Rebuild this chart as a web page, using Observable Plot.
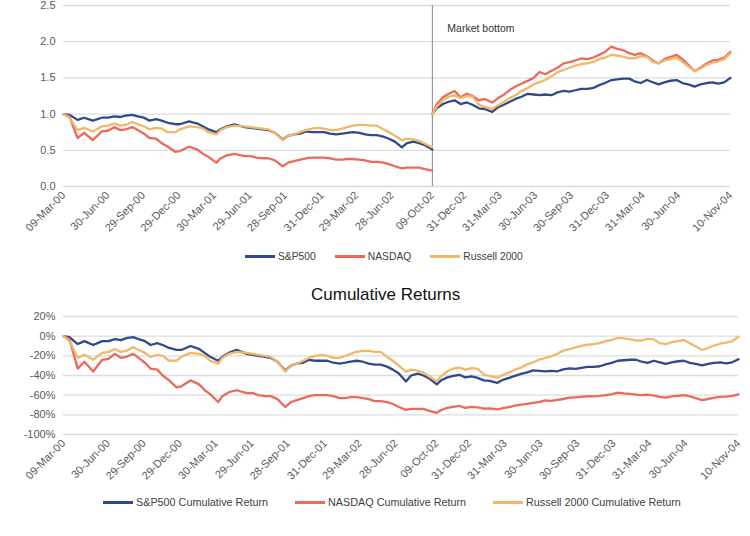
<!DOCTYPE html>
<html><head><meta charset="utf-8">
<script src="https://cdn.jsdelivr.net/npm/d3@7"></script>
<script src="https://cdn.jsdelivr.net/npm/@observablehq/plot@0.6"></script>
<style>
body{margin:0;background:#fff;font-family:"Liberation Sans",Arial,sans-serif;}
#wrap{position:relative;width:750px;height:536px;}
#wrap > *{position:absolute;left:0;}
.legend{width:750px;box-sizing:border-box;display:flex;justify-content:flex-start;align-items:center;color:#404040;height:20px;}
.legend .item{display:flex;align-items:center;}
.legend .sw{display:inline-block;width:30px;height:3px;margin-right:3px;}
.title{width:750px;box-sizing:border-box;padding-left:311px;font-size:17px;color:#111;line-height:22px;}
</style></head><body><div id="wrap"></div>
<script>
const dates = [
"2000-03-09","2000-03-24","2000-04-14","2000-05-01","2000-05-23","2000-06-15","2000-07-01","2000-07-17","2000-08-01","2000-08-15",
"2000-09-01","2000-09-15","2000-10-01","2000-10-15","2000-11-01","2000-11-15","2000-12-01","2000-12-20","2001-01-01","2001-01-24",
"2001-02-15","2001-03-01","2001-03-15","2001-04-04","2001-04-15","2001-05-01","2001-05-21","2001-06-15","2001-07-01","2001-07-15",
"2001-08-01","2001-08-15","2001-09-01","2001-09-21","2001-10-05","2001-10-20","2001-11-05","2001-11-20","2001-12-05","2001-12-20",
"2002-01-05","2002-01-20","2002-02-05","2002-02-20","2002-03-05","2002-03-20","2002-04-05","2002-04-20","2002-05-05","2002-05-20",
"2002-06-05","2002-06-20","2002-07-05","2002-07-23","2002-08-05","2002-08-22","2002-09-05","2002-09-20","2002-10-09",
"2002-10-20","2002-11-05","2002-11-20","2002-12-05","2002-12-20","2003-01-05","2003-01-20","2003-02-05","2003-02-20","2003-03-11",
"2003-03-25","2003-04-10","2003-04-25","2003-05-10","2003-05-25","2003-06-10","2003-06-25","2003-07-10","2003-07-25","2003-08-10",
"2003-08-25","2003-09-10","2003-09-25","2003-10-10","2003-10-25","2003-11-10","2003-11-25","2003-12-10","2003-12-25","2004-01-10",
"2004-01-25","2004-02-10","2004-02-25","2004-03-10","2004-03-25","2004-04-10","2004-04-25","2004-05-10","2004-05-25","2004-06-10",
"2004-06-25","2004-07-10","2004-07-25","2004-08-10","2004-08-25","2004-09-10","2004-09-25","2004-10-10","2004-10-25","2004-11-10"
];
// cumulative return since 09-Mar-00, %
const sp500 = [
0,-1,-8,-5,-9,-5,-5,-3,-4,-2,
-1,-3,-5,-9,-7,-9,-12,-14,-14,-10,
-13,-17,-21,-25,-21,-17,-14,-18,-19,-20,
-21,-22,-26,-35,-30,-28,-27,-24,-25,-25,
-25,-27,-28,-27,-26,-25,-26,-28,-29,-29,
-31,-34,-38,-46,-40,-38,-40,-43,-49,
-44.9,-41.9,-40.3,-39.3,-41.9,-40.8,-42.4,-44.9,-45.4,-47.5,
-44.4,-42.4,-40.3,-38.3,-36.8,-34.7,-35.2,-35.7,-35.2,-35.7,
-33.7,-32.7,-33.2,-32.2,-31.2,-31.2,-30.6,-28.6,-27.1,-25.0,
-24.5,-24.0,-24.0,-26.0,-27.1,-25.0,-26.6,-28.1,-26.6,-25.5,
-25.0,-27.1,-28.1,-29.6,-28.1,-27.1,-26.6,-27.6,-26.6,-23.5
];
const nasdaq = [
0,-3,-33,-26,-36,-24,-23,-18,-22,-21,
-18,-22,-27,-33,-34,-40,-45,-52,-51,-45,
-49,-55,-59,-67,-61,-57,-55,-58,-58,-60,
-61,-61,-64,-72,-67,-65,-63,-61,-60,-60,
-60,-61,-63,-63,-62,-62,-63,-64,-66,-66,
-67,-69,-72,-75,-74,-74,-74,-76,-78,
-75.1,-72.9,-71.8,-71.0,-72.9,-71.8,-72.5,-73.8,-73.4,-74.5,
-73.2,-72.1,-70.7,-69.6,-68.8,-67.9,-67.0,-65.2,-65.9,-64.8,
-63.9,-62.6,-62.2,-61.7,-61.1,-61.3,-60.8,-60.0,-59.1,-57.5,
-58.2,-58.6,-59.5,-60.0,-59.5,-60.4,-61.7,-62.6,-61.3,-60.6,
-60.0,-61.3,-63.0,-65.0,-63.9,-62.6,-61.7,-61.5,-60.8,-59.1
];
const russell = [
0,-5,-22,-19,-24,-17,-16,-13,-16,-15,
-11,-14,-17,-21,-19,-20,-25,-25,-21,-17,
-18,-20,-25,-28,-22,-18,-16,-17,-18,-19,
-20,-21,-26,-36,-30,-28,-25,-22,-20,-19,
-20,-22,-22,-20,-18,-16,-15,-15,-16,-16,
-21,-25,-30,-36,-34,-35,-37,-41,-46,
-40.6,-35.7,-33.0,-32.0,-34.1,-32.5,-33.0,-39.0,-40.6,-42.2,
-39.5,-36.8,-34.1,-32.0,-28.7,-26.6,-23.9,-22.2,-20.6,-17.9,
-14.7,-13.1,-11.4,-9.8,-8.7,-8.2,-7.1,-5.0,-3.9,-1.7,
-2.3,-3.3,-4.4,-4.4,-2.8,-3.3,-7.1,-8.2,-6.0,-5.0,
-3.9,-7.1,-10.4,-14.1,-12.0,-9.3,-7.7,-6.6,-5.0,-0.6
];
const seriesNames = ["S&P500","NASDAQ","Russell 2000"];
const seriesColors = ["#2f4a8c","#ec6a5c","#f1b868"];
const bottomDate = "2002-10-09";
const tickLabels = ["2000-03-09","2000-06-30","2000-09-29","2000-12-29","2001-03-30","2001-06-29","2001-09-28","2001-12-31",
"2002-03-29","2002-06-28","2002-10-09","2002-12-31","2003-03-31","2003-06-30","2003-09-30","2003-12-31","2004-03-31","2004-06-30","2004-11-10"];
const topTicks = [0,0.5,1,1.5,2,2.5];
const bottomTicks = [-100,-80,-60,-40,-20,0,20];

const P = d => new Date(d + "T00:00:00Z");
const seriesValues = [sp500, nasdaq, russell];
const bIdx = dates.indexOf(bottomDate);
const topRows = [], botRows = [];
seriesNames.forEach((name, s) => {
  const vals = seriesValues[s];
  const base = 1 + vals[bIdx] / 100;
  dates.forEach((d, i) => {
    const lvl = 1 + vals[i] / 100;
    if (i <= bIdx) topRows.push({date: P(d), v: lvl, key: name + "-a", series: name});
  });
  dates.forEach((d, i) => {
    const lvl = 1 + vals[i] / 100;
    if (i >= bIdx) topRows.push({date: P(d), v: lvl / base, key: name + "-b", series: name});
  });
  dates.forEach((d, i) => botRows.push({date: P(d), v: vals[i], key: name, series: name}));
});
const xDomain = [P(dates[0]), P(dates[dates.length - 1])];
const ticks = tickLabels.map(P);
const fmt = d3.utcFormat("%d-%b-%y");
const color = {domain: seriesNames, range: seriesColors};
const style = {fontFamily: '"Liberation Sans", Arial, sans-serif', fontSize: "11px", color: "#5a5a5a", background: "#fff"};

const topChart = Plot.plot({
  width: 750, height: 240,
  marginTop: 5, marginBottom: 54, marginLeft: 63, marginRight: 20,
  style,
  x: {type: "utc", domain: xDomain},
  y: {domain: [0, 2.5]},
  color,
  marks: [
    Plot.gridY(topTicks, {stroke: "#dcdcdc", strokeOpacity: 1, strokeWidth: 1.3}),
    Plot.axisY(topTicks, {tickSize: 0, tickPadding: 8, tickFormat: d3.format(".1f"), label: null}),
    Plot.axisX(ticks, {tickSize: 0, tickPadding: 7, tickRotate: -45, tickFormat: fmt, label: null}),
    Plot.ruleX([P(bottomDate)], {stroke: "#8a8a8a", strokeWidth: 1, y1: 0, y2: 2.5}),
    Plot.text(["Market bottom"], {x: P(bottomDate), y: 2.18, text: d => d, dx: 15, textAnchor: "start", fontSize: 10.5, fill: "#333"}),
    Plot.line(topRows, {x: "date", y: "v", z: "key", stroke: "series", strokeWidth: 2.3})
  ]
});

const bottomChart = Plot.plot({
  width: 750, height: 174,
  marginTop: 6, marginBottom: 50, marginLeft: 63, marginRight: 12,
  style,
  x: {type: "utc", domain: xDomain},
  y: {domain: [-100, 20]},
  color,
  marks: [
    Plot.gridY(bottomTicks, {stroke: "#dcdcdc", strokeOpacity: 1, strokeWidth: 1.3}),
    Plot.axisY(bottomTicks, {tickSize: 0, tickPadding: 8, tickFormat: d => d + "%", label: null}),
    Plot.axisX(ticks, {tickSize: 0, tickPadding: 7, tickRotate: -45, tickFormat: fmt, label: null}),
    Plot.line(botRows, {x: "date", y: "v", z: "key", stroke: "series", strokeWidth: 2.3})
  ]
});

function makeLegend(labels, left, gap, fontSize) {
  const div = document.createElement("div");
  div.className = "legend";
  div.style.paddingLeft = left + "px";
  div.style.gap = gap + "px";
  div.style.fontSize = fontSize + "px";
  labels.forEach((l, i) => {
    const it = document.createElement("div");
    it.className = "item";
    const sw = document.createElement("span");
    sw.className = "sw";
    sw.style.background = seriesColors[i];
    it.appendChild(sw);
    it.appendChild(document.createTextNode(l));
    div.appendChild(it);
  });
  return div;
}
const wrap = document.getElementById("wrap");
topChart.style.top = "0px"; wrap.appendChild(topChart);
const l1 = makeLegend(seriesNames, 245, 19, 10.3); l1.style.top = "246px"; wrap.appendChild(l1);
const t = document.createElement("div"); t.className = "title"; t.textContent = "Cumulative Returns"; t.style.top = "284px"; wrap.appendChild(t);
bottomChart.style.top = "310px"; wrap.appendChild(bottomChart);
const l2 = makeLegend(seriesNames.map(n => n + " Cumulative Return"), 103, 27, 10.8); l2.style.top = "492px"; wrap.appendChild(l2);
</script></body></html>
